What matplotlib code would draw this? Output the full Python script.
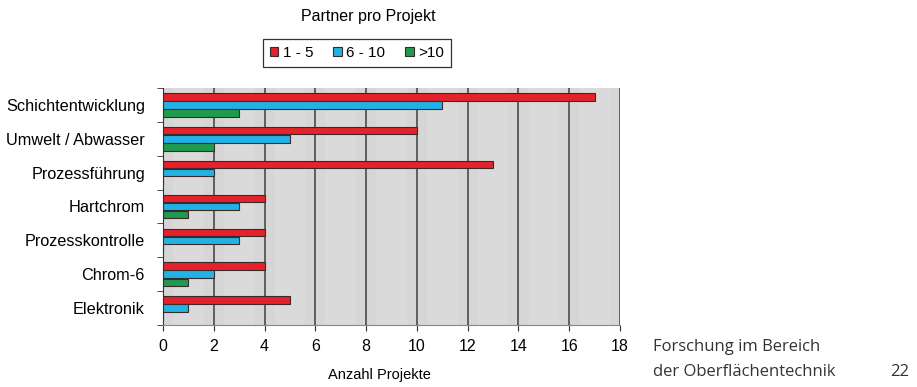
import numpy as np
import matplotlib.pyplot as plt
from matplotlib.patches import Rectangle

# Projektzahlen je Themenfeld, getrennt nach Anzahl der Partner
themen = ['Schichtentwicklung', 'Umwelt / Abwasser', 'Prozessführung', 'Hartchrom',
          'Prozesskontrolle', 'Chrom-6', 'Elektronik']
partner_1_5 = [17, 10, 13, 4, 4, 4, 5]
partner_6_10 = [11, 5, 2, 3, 3, 2, 1]
partner_ueber_10 = [3, 2, 0, 1, 0, 1, 0]
serien = ['1 - 5', '6 - 10', '>10']
farben = ['#e5222b', '#22b2e6', '#1f9a4e']
x_ticks = list(range(0, 20, 2))

plt.rcParams['font.family'] = ['Liberation Sans', 'DejaVu Sans']

fig = plt.figure(figsize=(9.17, 3.87), dpi=100)
ax = fig.add_axes([163 / 917, 62 / 387, 457 / 917, 237 / 387])

# Rueckwand mit leichter Streifenschattierung
ax.set_facecolor('#d6d6d6')
for x0 in x_ticks[:-1]:
    ax.add_patch(Rectangle((x0 + 0.4, -0.5), 1.2, 7, color='#dadada', lw=0, zorder=0))
for x0 in x_ticks[1:]:
    ax.axvline(x0, color='#555555', lw=1.3, zorder=1)

y = np.arange(len(themen))
h = 0.22
for i, (werte, farbe) in enumerate(zip([partner_1_5, partner_6_10, partner_ueber_10], farben)):
    ax.barh(y + (i - 1) * 0.24, werte, height=h, color=farbe, edgecolor='#3a2a2a',
            lw=0.8, label=serien[i], zorder=3)

ax.set_xlim(0, 18)
ax.set_ylim(6.5, -0.5)
ax.set_yticks(y)
ax.set_yticklabels(themen, fontsize=11.7)
ax.set_yticks(np.arange(-0.5, 7, 1), minor=True)
ax.tick_params(axis='y', which='major', length=0, pad=13)
ax.tick_params(axis='y', which='minor', length=4, direction='out', color='#333333')
ax.set_xticks(x_ticks)
ax.set_xticklabels([str(v) for v in x_ticks], fontsize=11.5)
ax.tick_params(axis='x', length=4, direction='out', color='#333333', pad=6)
for side in ['top', 'right']:
    ax.spines[side].set_visible(False)
ax.spines['left'].set_color('#333333')
ax.spines['bottom'].set_color('#888888')

ax.set_xlabel('Anzahl Projekte', fontsize=10.5)
ax.xaxis.set_label_coords((379 - 163) / 457, -(375 - 325) / 237)
ax.xaxis.label.set_va('center')

fig.text(368 / 917, 1 - 17 / 387, 'Partner pro Projekt', ha='center', va='center', fontsize=11.5)
leg = ax.legend(loc='center', bbox_to_anchor=((357 - 163) / 457, (387 - 53 - 62) / 237),
                ncol=3, fontsize=11, frameon=True, fancybox=False, edgecolor='black',
                handlelength=0.55, handleheight=0.55, handletextpad=0.3, columnspacing=1.3,
                borderpad=0.45)
leg.get_frame().set_linewidth(0.9)

# Seitenfuss
fig.text(653 / 917, 1 - 347 / 387, 'Forschung im Bereich', fontsize=12, color='#333333',
         family='Open Sans', va='center')
fig.text(653 / 917, 1 - 372 / 387, 'der Oberflächentechnik', fontsize=12, color='#333333',
         family='Open Sans', va='center')
fig.text(890 / 917, 1 - 372 / 387, '22', fontsize=12, color='#333333',
         family='Open Sans', va='center')

fig.savefig('out.png', dpi=100)
